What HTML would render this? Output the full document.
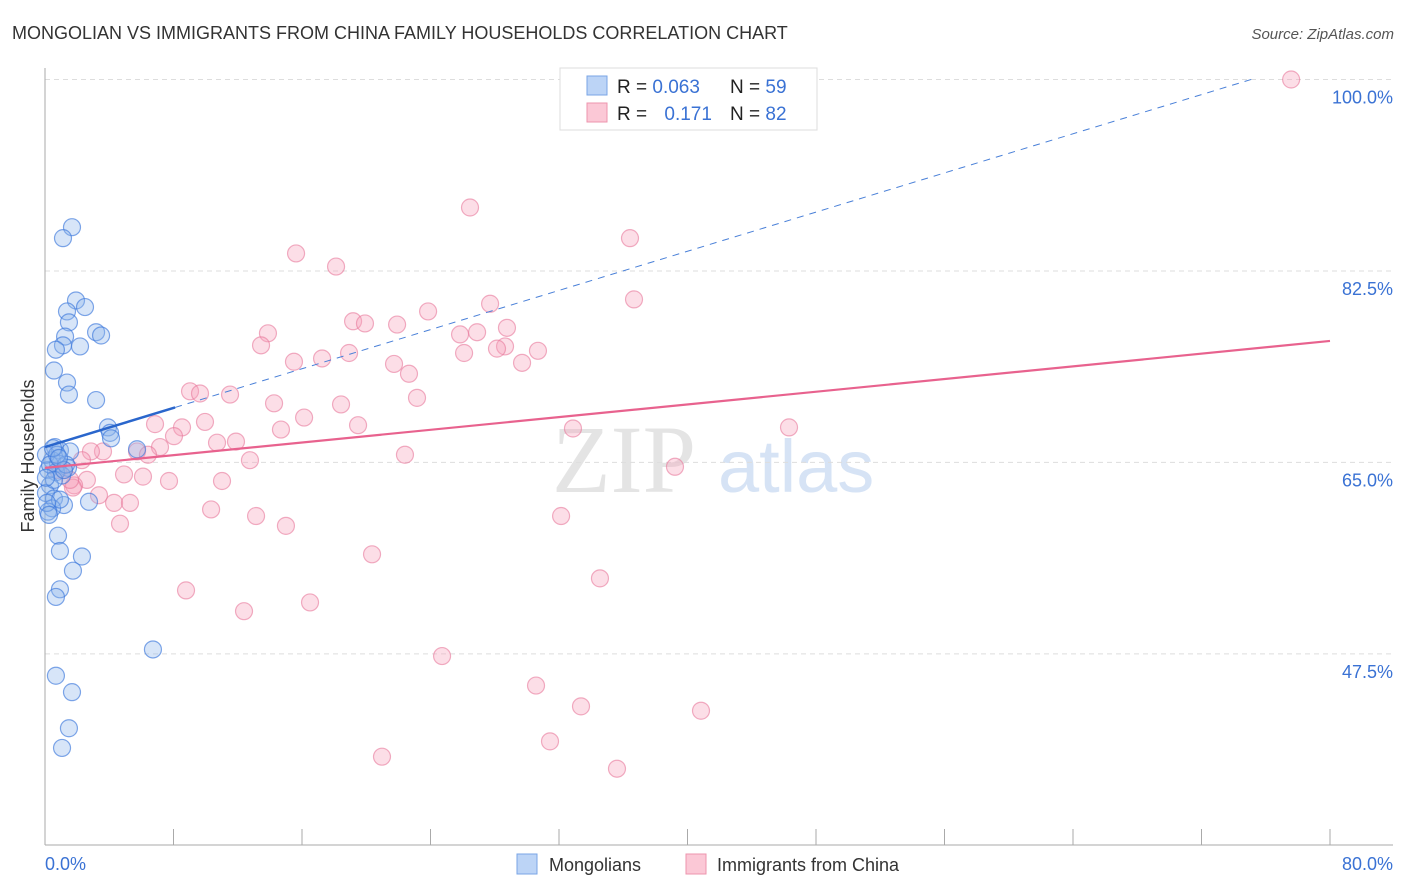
<!DOCTYPE html>
<html><head><meta charset="utf-8">
<style>
body{margin:0;background:#fff;font-family:"Liberation Sans",sans-serif;}
svg{display:block}
</style></head>
<body>
<svg id="chart" width="1406" height="892" xmlns="http://www.w3.org/2000/svg">
<text x="12" y="39" font-size="18" fill="#333">MONGOLIAN VS IMMIGRANTS FROM CHINA FAMILY HOUSEHOLDS CORRELATION CHART</text>
<text x="1394" y="39" font-size="15" fill="#555" text-anchor="end" font-style="italic">Source: ZipAtlas.com</text>
<text x="552" y="492" font-size="96" fill="#e4e4e4" font-family="Liberation Serif">ZIP</text>
<text x="718" y="492" font-size="74" fill="#d6e3f5">atlas</text>
<g id="grid"></g>
<g id="axes"></g>
<g id="pts"></g>
<g id="lines"></g>
<text transform="translate(34,456) rotate(-90)" font-size="18" fill="#333" text-anchor="middle">Family Households</text>
<text x="45" y="870" font-size="18" fill="#3a72d4">0.0%</text>
<text x="1393" y="870" font-size="18" fill="#3a72d4" text-anchor="end">80.0%</text>
<g>
<rect x="560" y="68" width="257" height="62" fill="#fff" stroke="#ddd"/>
<rect x="587" y="76" width="20" height="19" fill="#bcd4f6" stroke="#7aa5e6"/>
<rect x="587" y="103" width="20" height="19" fill="#fbc8d6" stroke="#ee94ae"/>
<text x="617" y="93" font-size="19" fill="#222">R = <tspan fill="#3a72d4">0.063</tspan></text>
<text x="730" y="93" font-size="19" fill="#222">N = <tspan fill="#3a72d4">59</tspan></text>
<text x="617" y="120" font-size="19" fill="#222">R = <tspan fill="#3a72d4" dx="12">0.171</tspan></text>
<text x="730" y="120" font-size="19" fill="#222">N = <tspan fill="#3a72d4">82</tspan></text>
</g>
<g>
<rect x="517" y="854" width="20" height="20" fill="#bcd4f6" stroke="#7aa5e6"/>
<text x="549" y="871" font-size="18" fill="#333">Mongolians</text>
</g>
<g>
<rect x="686" y="854" width="20" height="20" fill="#fbc8d6" stroke="#ee94ae"/>
<text x="717" y="871" font-size="18" fill="#333">Immigrants from China</text>
</g>
</svg>
<script>
const yTicks=[100,82.5,65,47.5];
const yTickLabels=["100.0%","82.5%","65.0%","47.5%"];
const blueX=[1.68,1.12,1.93,2.49,1.37,1.49,1.25,1.12,2.18,3.18,3.49,0.68,0.56,1.37,1.49,3.18,3.92,4.05,4.11,5.73,2.74,0.62,0.93,1.56,0.44,0.81,1.43,0.19,0.68,1.06,0.31,0.06,0.56,1.18,0.44,0.19,0.81,0.93,2.30,1.74,0.93,0.68,6.72,0.68,1.68,1.49,1.06,0.06,0.31,1.31,0.56,0.93,0.12,0.25,0.75,1.18,0.50,0.87,0.06];
const blueY=[86.5,85.5,79.8,79.2,78.8,77.8,76.5,75.7,75.6,76.9,76.6,75.3,73.4,72.3,71.2,70.7,68.2,67.7,67.2,66.2,61.4,66.4,66.1,66.0,65.2,64.9,64.5,64.3,64.1,63.8,62.9,62.2,61.7,61.1,60.8,60.5,58.3,56.9,56.4,55.1,53.4,52.7,47.9,45.5,44.0,40.7,38.9,65.7,64.8,64.8,63.4,61.6,61.3,60.2,65.7,64.3,66.3,65.4,63.6];
const pinkX=[77.58,26.46,36.42,15.63,18.12,36.67,27.71,23.85,19.18,19.92,21.92,13.88,25.84,26.90,28.76,13.45,28.64,28.14,18.93,30.69,17.25,26.09,15.50,21.73,29.70,22.66,9.03,9.65,11.52,23.16,14.26,18.43,6.85,8.53,9.96,16.13,19.49,32.87,46.32,14.69,8.03,11.89,10.71,7.16,5.73,3.61,2.86,6.41,2.30,12.76,22.41,39.22,4.92,6.10,7.72,11.02,2.61,1.81,1.74,3.36,4.30,5.29,10.34,13.14,32.13,15.00,4.67,20.36,34.55,8.78,16.50,12.39,24.72,30.57,33.37,40.84,31.44,20.98,35.61,1.18,1.56,0.81];
const pinkY=[100,88.3,85.5,84.1,82.9,79.9,79.5,78.8,77.9,77.7,77.6,76.8,76.7,76.9,77.3,75.7,75.6,75.4,75.0,75.2,74.5,75.0,74.2,74.0,74.1,73.1,71.5,71.3,71.2,70.9,70.4,70.3,68.5,68.2,68.7,69.1,68.4,68.1,68.2,68.0,67.4,66.9,66.8,66.4,66.0,66.0,66.0,65.7,65.2,65.2,65.7,64.6,63.9,63.7,63.3,63.3,63.4,62.9,62.7,62.0,61.3,61.3,60.7,60.1,60.1,59.2,59.4,56.6,54.4,53.3,52.2,51.4,47.3,44.6,42.7,42.3,39.5,38.1,37.0,64.3,63.4,64.3];
const blueTrend=[66.4,102.2];
const pinkTrend=[64.5,76.1];
const NS='http://www.w3.org/2000/svg';
const X0=45,X1=1330,Y100=79.5,PXPER=10.94;
function sx(v){return X0+(v/80)*(X1-X0);}
function sy(v){return Y100+(100-v)*PXPER;}
function mk(tag,attrs,parent){const e=document.createElementNS(NS,tag);for(const k in attrs)e.setAttribute(k,attrs[k]);parent.appendChild(e);return e;}
const grid=document.getElementById('grid'),axes=document.getElementById('axes'),pts=document.getElementById('pts'),lines=document.getElementById('lines');
yTicks.forEach((t,i)=>{
  const l=mk('line',{x1:X0,x2:1393,y1:sy(t),y2:sy(t),stroke:'#ddd','stroke-dasharray':'5,4'},grid);
  
  
  const tx=mk('text',{x:1393,y:sy(t)+24,'font-size':18,fill:'#3a72d4','text-anchor':'end'},grid);
  tx.textContent=yTickLabels[i];
  
  
});
const ya=mk('line',{x1:X0,x2:X0,y1:68,y2:845,stroke:'#aaa'},axes);


const xa=mk('line',{x1:X0,x2:1393,y1:845,y2:845,stroke:'#aaa'},axes);


for(let i=0;i<=10;i++){
  const t=mk('line',{x1:sx(i*8),x2:sx(i*8),y1:829,y2:845,stroke:'#aaa'},axes);
  
  
}
pinkX.forEach((x,i)=>{
  const c=mk('circle',{cx:sx(x),cy:sy(pinkY[i]),r:8.5,fill:'rgba(246,160,186,0.35)',stroke:'rgba(232,120,155,0.6)','stroke-width':1.2},pts);
  
  
});
blueX.forEach((x,i)=>{
  const c=mk('circle',{cx:sx(x),cy:sy(blueY[i]),r:8.5,fill:'rgba(140,180,236,0.35)',stroke:'rgba(60,120,220,0.65)','stroke-width':1.2},pts);
  
  
});
function by(x){return blueTrend[0]+(blueTrend[1]-blueTrend[0])*x/80;}
const bd=mk('line',{x1:sx(8.1),y1:sy(by(8.1)),x2:sx(75.3),y2:sy(by(75.3)),stroke:'#4a80d8','stroke-width':1,'stroke-dasharray':'7,6'},lines);


const bs=mk('line',{x1:sx(0),y1:sy(by(0)),x2:sx(8.1),y2:sy(by(8.1)),stroke:'#2a66cc','stroke-width':2.5},lines);


const pl=mk('line',{x1:sx(0),y1:sy(pinkTrend[0]),x2:sx(80),y2:sy(pinkTrend[1]),stroke:'#e8628e','stroke-width':2.2},lines);


</script>
</body></html>
